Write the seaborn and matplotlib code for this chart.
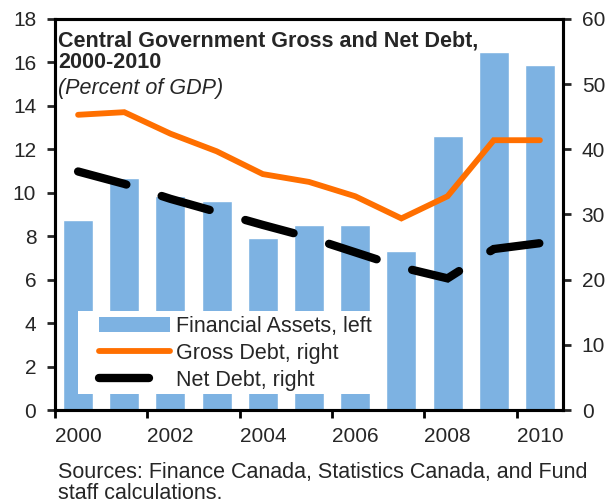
import numpy as np
import pandas as pd
import matplotlib
matplotlib.use("Agg")
import matplotlib.pyplot as plt
from matplotlib.patches import Patch, Rectangle
from matplotlib.lines import Line2D
import seaborn as sns

# Central government balance sheet, 2000-2010
years = ["2000", "2001", "2002", "2003", "2004", "2005",
         "2006", "2007", "2008", "2009", "2010"]
financial_assets = [8.75, 10.7, 9.85, 9.6, 7.9, 8.5, 8.5, 7.3, 12.6, 16.5, 15.9]   # left axis
gross_debt = [45.3, 45.7, 42.4, 39.7, 36.2, 35.0, 32.8, 29.4, 32.8, 41.4, 41.4]     # right axis
net_debt = [36.6, 34.7, 32.4, 30.4, 28.4, 26.5, 24.2, 21.9, 20.2, 24.7, 25.6]       # right axis

left_ticks = [0, 2, 4, 6, 8, 10, 12, 14, 16, 18]
right_ticks = [0, 10, 20, 30, 40, 50, 60]

df = pd.DataFrame({
    "year": years,
    "pos": np.arange(len(years)),
    "assets": financial_assets,
    "gross": gross_debt,
    "net": net_debt,
})

sns.set_style("ticks")
plt.rcParams["font.family"] = ["Liberation Sans", "DejaVu Sans"]

BLUE = "#7DB2E2"
ORANGE = "#FF6F00"
BLACK = "#000000"
TICK_FS = 15
TEXT_FS = 15.5
NET_DASH = (0, (6.0, 4.45))

W, H = 608, 503
fig = plt.figure(figsize=(W / 100, H / 100), dpi=100)
ax = fig.add_axes([55 / W, 1 - 410 / H, (563 - 55) / W, (410 - 19) / H])

sns.barplot(data=df, x="year", y="assets", color=BLUE, saturation=1,
            width=0.65, ax=ax, zorder=2)
ax.set_xlim(-0.5, len(years) - 0.5)
ax.set_ylim(0, 18)
ax.set_yticks(left_ticks)
ax.set_yticklabels([str(t) for t in left_ticks])
ax.set_xlabel("")
ax.set_ylabel("")

# year labels centred on bars, tick marks between pairs of bars
label_pos = df["pos"].values[::2]
ax.set_xticks(label_pos - 0.5)
ax.set_xticklabels([])
ax.set_xticks(label_pos, minor=True)
ax.set_xticklabels([years[i] for i in label_pos], minor=True)
ax.tick_params(axis="x", which="major", direction="out", length=5.5, width=2, color="black")
ax.tick_params(axis="x", which="minor", length=0, pad=12, labelsize=TICK_FS)
ax.tick_params(axis="y", direction="out", length=5.5, width=2, pad=8, labelsize=TICK_FS)

ax2 = ax.twinx()
sns.lineplot(data=df, x="pos", y="gross", ax=ax2, color=ORANGE, linewidth=4.2)
sns.lineplot(data=df, x="pos", y="net", ax=ax2, color=BLACK, linewidth=6,
             linestyle=NET_DASH)
gross_line, net_line = ax2.lines[0], ax2.lines[1]
gross_line.set_solid_capstyle("round")
gross_line.set_solid_joinstyle("miter")
net_line.set_dash_capstyle("round")
net_line.set_dash_joinstyle("miter")

ax2.set_ylim(0, 60)
ax2.set_yticks(right_ticks)
ax2.set_yticklabels([str(t) for t in right_ticks])
ax2.set_ylabel("")
ax2.set_xlabel("")
ax2.tick_params(axis="y", direction="out", length=5.5, width=2, pad=8, labelsize=TICK_FS)
ax2.set_xlim(-0.5, len(years) - 0.5)

for a in (ax, ax2):
    for s in a.spines.values():
        s.set_linewidth(2.2)
        s.set_color("black")

# white legend panel over the bars
ax2.add_patch(Rectangle((78 / W, 1 - 394 / H), (387 - 78) / W, (394 - 311) / H,
                        transform=fig.transFigure, facecolor="white",
                        edgecolor="none", clip_on=False, zorder=4))

handles = [
    Patch(facecolor=BLUE, edgecolor="none"),
    Line2D([], [], color=ORANGE, linewidth=4.2, solid_capstyle="round"),
    Line2D([], [], color=BLACK, linewidth=6, linestyle=NET_DASH,
           dash_capstyle="round"),
]
labels = ["Financial Assets, left", "Gross Debt, right", "Net Debt, right"]
leg = ax2.legend(handles, labels, loc="upper left",
                 bbox_to_anchor=(99 / W, 1 - 316 / H), bbox_transform=fig.transFigure,
                 borderaxespad=0, borderpad=0, frameon=False, fontsize=TEXT_FS,
                 handlelength=3.3, handleheight=0.75, handletextpad=0.3,
                 labelspacing=0.28)
leg.set_zorder(5)

fig.text(58 / W, 1 - 46 / H, "Central Government Gross and Net Debt,",
         fontsize=TEXT_FS, fontweight="bold", va="baseline", ha="left")
fig.text(58 / W, 1 - 68 / H, "2000-2010",
         fontsize=TEXT_FS, fontweight="bold", va="baseline", ha="left")
fig.text(58 / W, 1 - 94 / H, "(Percent of GDP)",
         fontsize=TEXT_FS, fontstyle="italic", va="baseline", ha="left")

fig.text(58 / W, 1 - 478 / H,
         "Sources: Finance Canada, Statistics Canada, and Fund",
         fontsize=TEXT_FS, va="baseline", ha="left")
fig.text(58 / W, 1 - 499 / H, "staff calculations.",
         fontsize=TEXT_FS, va="baseline", ha="left")

fig.savefig("out.png", dpi=100)
